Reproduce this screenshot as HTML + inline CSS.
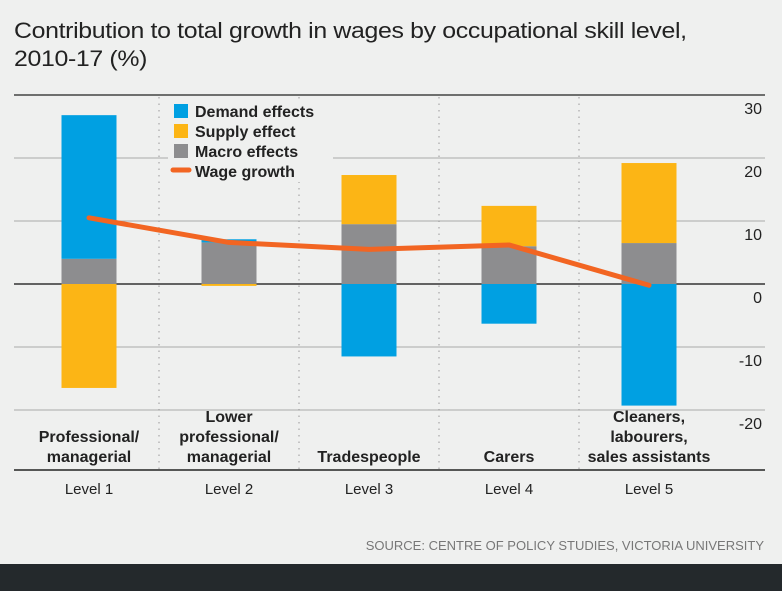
<!DOCTYPE html>
<html><head><meta charset="utf-8"><style>
body{margin:0;width:782px;height:591px;background:#eff0ef;font-family:"Liberation Sans",sans-serif;overflow:hidden;position:relative}
#title{position:absolute;left:14px;top:17px;font-size:22px;line-height:28px;color:#222;letter-spacing:-0.3px;transform:scale(1.13,1);transform-origin:0 0;white-space:nowrap}
#foot{position:absolute;left:0;top:564px;width:782px;height:27px;background:#24292c}
svg{position:absolute;left:0;top:0}
</style></head><body>
<div id="title">Contribution to total growth in wages by occupational skill level,<br>2010-17 (%)</div>
<svg id="chart" width="782" height="591"></svg>
<div id="foot"></div>
<script>
const categories=["Professional/\nmanagerial","Lower\nprofessional/\nmanagerial","Tradespeople","Carers","Cleaners,\nlabourers,\nsales assistants"];
const levels=["Level 1","Level 2","Level 3","Level 4","Level 5"];
const macro=[4,6.6,9.5,6,6.5];
const demand=[22.8,0.5,-11.5,-6.3,-19.3];
const supply=[-16.5,-0.3,7.8,6.4,12.7];
const wage=[10.5,6.6,5.5,6.2,-0.2];
const ticks=[30,20,10,0,-10,-20];
const NS="http://www.w3.org/2000/svg",svg=document.getElementById('chart');
const y=v=>284-v*6.3, cx=i=>89+i*140;
function el(t,a,p){const e=document.createElementNS(NS,t);for(const k in a)e.setAttribute(k,a[k]);(p||svg).appendChild(e);return e;}
ticks.forEach(t=>{
 const l=el('line',{x1:14,x2:765,y1:y(t),y2:y(t),stroke:t===0?'#333':(t===30?'#444':'#aaa'),'stroke-width':t===0||t===30?1.5:1});
 
 
 const tx=el('text',{x:762,y:y(t)+19,'text-anchor':'end','font-size':16,fill:'#222'});
 tx.textContent=t;
 
 
});
for(let i=0;i<4;i++){const d=el('line',{x1:cx(i)+70,x2:cx(i)+70,y1:97,y2:470,stroke:'#999','stroke-dasharray':'1.5,5'});
 
 }
el('line',{x1:14,x2:765,y1:470,y2:470,stroke:'#222','stroke-width':1.5});
const C={d:'#00a0e2',s:'#fcb515',m:'#8d8d8f'};
function bar(i,a,b,c,n){const r=el('rect',{x:cx(i)-27.5,width:55,y:y(Math.max(a,b)),height:Math.abs(y(a)-y(b)),fill:c});
 
 }
for(let i=0;i<5;i++){
 let pos=macro[i],neg=0;
 bar(i,0,macro[i],C.m,'macro');
 [[demand[i],C.d,'demand'],[supply[i],C.s,'supply']].forEach(([v,c,n])=>{
  if(v>=0){bar(i,pos,pos+v,c,n);pos+=v;}else{bar(i,neg,neg+v,c,n);neg+=v;}
 });
}
el('rect',{x:168,y:100,width:165,height:82,fill:'#eff0ef'});
const leg=[['Demand effects',C.d],['Supply effect',C.s],['Macro effects',C.m]];
leg.forEach((l,k)=>{const g=el('g',{});
 
 
 el('rect',{x:174,y:104+k*20,width:14,height:14,fill:l[1]},g);
 const t=el('text',{x:195,y:117+k*20,'font-size':16,'font-weight':'bold',fill:'#222'},g);t.textContent=l[0];});
const lg=el('g',{});


el('line',{x1:173,x2:189,y1:170,y2:170,stroke:'#f26522','stroke-width':5,'stroke-linecap':'round'},lg);
const lt=el('text',{x:195,y:177,'font-size':16,'font-weight':'bold',fill:'#222'},lg);lt.textContent='Wage growth';
const pl=el('polyline',{points:wage.map((v,i)=>cx(i)+','+y(v)).join(' '),fill:'none',stroke:'#f26522','stroke-width':5,'stroke-linecap':'round','stroke-linejoin':'round'});


categories.forEach((c,i)=>{const lines=c.split('\n');
 lines.forEach((s,j)=>{const t=el('text',{x:cx(i),y:462-(lines.length-1-j)*20,'text-anchor':'middle','font-size':16,'font-weight':'bold',fill:'#222'});t.textContent=s;
 
 });
 const t=el('text',{x:cx(i),y:494,'text-anchor':'middle','font-size':15,fill:'#222'});t.textContent=levels[i];
 
 
});
const src=el('text',{x:764,y:550,'text-anchor':'end','font-size':13,fill:'#777'});src.textContent='SOURCE: CENTRE OF POLICY STUDIES, VICTORIA UNIVERSITY';


</script>
</body></html>
